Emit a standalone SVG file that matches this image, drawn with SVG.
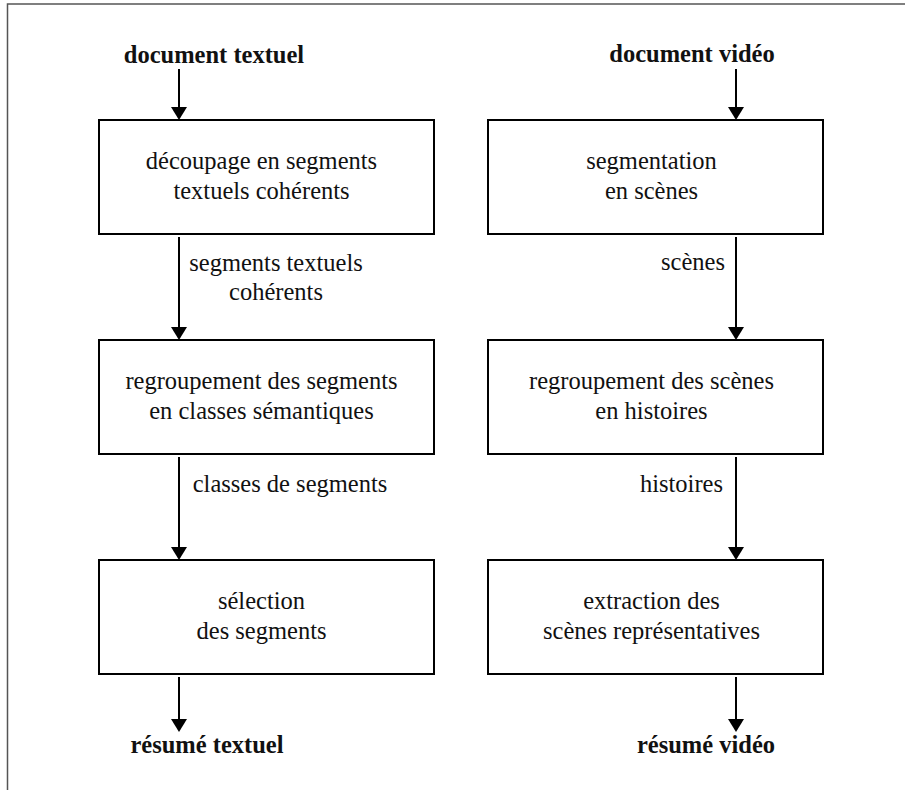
<svg xmlns="http://www.w3.org/2000/svg" width="905" height="790" viewBox="0 0 905 790">
<defs>
<style>
.box{fill:#fff;stroke:#000;stroke-width:2}
.t{font-family:"Liberation Serif","Times New Roman",serif;font-size:24.5px;fill:#111;text-anchor:middle}
.b{font-weight:bold}
.lbl{font-family:"Liberation Serif","Times New Roman",serif;font-size:24.5px;fill:#111;text-anchor:end}
.c{stroke:#000;stroke-width:2;fill:none;marker-end:url(#ah)}
</style>
<marker id="ah" markerUnits="userSpaceOnUse" markerWidth="16" markerHeight="13" viewBox="0 0 16 13" refX="8" refY="11" orient="auto">
<path d="M0,0 L16,0 L8,13 Z" fill="#000" transform="rotate(-90 8 6.5) translate(1.5 -1.5)"/>
</marker>
</defs>
<rect width="905" height="790" fill="#fff"/>
<path d="M7.5,790 V4 H905" fill="none" stroke="#555" stroke-width="1.5"/>

<g id="connectors">
<line x1="179" y1="69" x2="179" y2="110" stroke="#000" stroke-width="2"/>
<path d="M171,107 L187,107 L179,120 Z" fill="#000"/>
<line x1="179" y1="237" x2="179" y2="330" stroke="#000" stroke-width="2"/>
<path d="M171,327 L187,327 L179,340 Z" fill="#000"/>
<line x1="179" y1="457" x2="179" y2="550" stroke="#000" stroke-width="2"/>
<path d="M171,547 L187,547 L179,560 Z" fill="#000"/>
<line x1="179" y1="677" x2="179" y2="722" stroke="#000" stroke-width="2"/>
<path d="M171,719 L187,719 L179,732 Z" fill="#000"/>
<line x1="736" y1="69" x2="736" y2="110" stroke="#000" stroke-width="2"/>
<path d="M728,107 L744,107 L736,120 Z" fill="#000"/>
<line x1="736" y1="237" x2="736" y2="330" stroke="#000" stroke-width="2"/>
<path d="M728,327 L744,327 L736,340 Z" fill="#000"/>
<line x1="736" y1="457" x2="736" y2="550" stroke="#000" stroke-width="2"/>
<path d="M728,547 L744,547 L736,560 Z" fill="#000"/>
<line x1="736" y1="677" x2="736" y2="722" stroke="#000" stroke-width="2"/>
<path d="M728,719 L744,719 L736,732 Z" fill="#000"/>
<text class="t" x="276" y="271">segments textuels</text>
<text class="t" x="276" y="300">cohérents</text>
<text class="t" x="290" y="492">classes de segments</text>
<text class="lbl" x="725" y="270">scènes</text>
<text class="lbl" x="723" y="492">histoires</text>
</g>

<g id="in-text"><text class="t b" x="214" y="63">document textuel</text></g>
<g id="in-video"><text class="t b" x="692" y="62">document vidéo</text></g>

<g id="decoupage">
<rect class="box" x="99" y="120" width="335" height="114"/>
<text class="t" x="261.5" y="169">découpage en segments</text>
<text class="t" x="261.5" y="199">textuels cohérents</text>
</g>
<g id="regroupement-segments">
<rect class="box" x="99" y="340" width="335" height="114"/>
<text class="t" x="261.5" y="389">regroupement des segments</text>
<text class="t" x="261.5" y="419">en classes sémantiques</text>
</g>
<g id="selection">
<rect class="box" x="99" y="560" width="335" height="114"/>
<text class="t" x="261.5" y="609">sélection</text>
<text class="t" x="261.5" y="639">des segments</text>
</g>

<g id="segmentation">
<rect class="box" x="488" y="120" width="335" height="114"/>
<text class="t" x="651.5" y="169">segmentation</text>
<text class="t" x="651.5" y="199">en scènes</text>
</g>
<g id="regroupement-scenes">
<rect class="box" x="488" y="340" width="335" height="114"/>
<text class="t" x="651.5" y="389">regroupement des scènes</text>
<text class="t" x="651.5" y="419">en histoires</text>
</g>
<g id="extraction">
<rect class="box" x="488" y="560" width="335" height="114"/>
<text class="t" x="651.5" y="609">extraction des</text>
<text class="t" x="651.5" y="639">scènes représentatives</text>
</g>

<g id="out-text"><text class="t b" x="207" y="753">résumé textuel</text></g>
<g id="out-video"><text class="t b" x="706" y="753">résumé vidéo</text></g>
</svg>
